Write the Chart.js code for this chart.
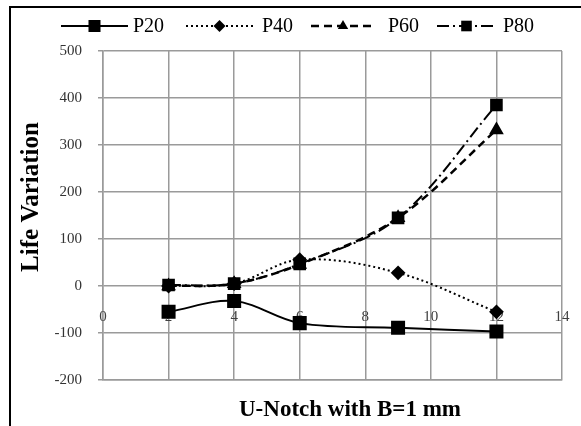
<!DOCTYPE html>
<html>
<head>
<meta charset="utf-8">
<script src="https://cdn.jsdelivr.net/npm/chart.js@4.4.1/dist/chart.umd.min.js"></script>
<style>
html,body{margin:0;padding:0;background:#fff;}
#wrap{width:581px;height:426px;}
</style>
</head>
<body>
<div id="wrap"><canvas id="chart" width="581" height="426"></canvas></div>
<script>

// values
const notchDepth=[2,4,6,9,12];
const p20=[-55,-32,-79,-89,-97];
const p40=[0,5,56,28,-55];
const p60=[0,5,46,145,332];
const p80=[2,5,47,145,385];

const xTicks=[0,2,4,6,8,10,12,14];
const yTicks=[-200,-100,0,100,200,300,400,500];

const seriesNames=["P20","P40","P60","P80"];

const SERIF="'Times New Roman','Liberation Serif',serif";
const GRID="#9a9a9a";

function points(values){
    return notchDepth.map((x,i)=>({x:x,y:values[i]}));
}

// legend sample positions (line start, line end, text start)
const legendPos=[
    [61,128,133],
    [186,253,262],
    [311,375,388],
    [437,496,503]
];

function drawMarker(ctx,style,x,y,r){

    ctx.beginPath();

    if(style==="rect"){
        const s=r*Math.SQRT1_2;
        ctx.rect(x-s,y-s,s*2,s*2);
    }
    else if(style==="rectRot"){
        ctx.moveTo(x,y-r);
        ctx.lineTo(x+r,y);
        ctx.lineTo(x,y+r);
        ctx.lineTo(x-r,y);
        ctx.closePath();
    }
    else if(style==="triangle"){
        ctx.moveTo(x,y-r);
        ctx.lineTo(x+r*0.866,y+r*0.5);
        ctx.lineTo(x-r*0.866,y+r*0.5);
        ctx.closePath();
    }

    ctx.fill();

}

const decor={

    id:"decor",

    beforeDatasetsDraw(chart){

        const ctx=chart.ctx;
        const xs=chart.scales.x;
        const y0=chart.scales.y.getPixelForValue(0);

        ctx.save();
        ctx.fillStyle="#404040";
        ctx.font="15px "+SERIF;
        ctx.textAlign="center";
        ctx.textBaseline="middle";

        xTicks.forEach(v=>{
            ctx.fillText(String(v),xs.getPixelForValue(v),y0+31);
        });

        ctx.restore();

    },

    afterDraw(chart){

        const ctx=chart.ctx;

        ctx.save();

        // outer frame
        ctx.strokeStyle="#000";
        ctx.lineWidth=2;
        ctx.strokeRect(10,7,640,500);

        // legend
        chart.data.datasets.forEach((ds,i)=>{

            const p=legendPos[i];
            const ly=26;

            ctx.strokeStyle="#000";
            ctx.lineWidth=ds.borderWidth;
            ctx.setLineDash(ds.borderDash||[]);
            ctx.beginPath();
            ctx.moveTo(p[0],ly);
            ctx.lineTo(p[1],ly);
            ctx.stroke();
            ctx.setLineDash([]);

            ctx.fillStyle="#000";
            drawMarker(ctx,ds.pointStyle,(p[0]+p[1])/2,ly,ds.pointRadius);

            ctx.font="20px "+SERIF;
            ctx.textAlign="left";
            ctx.textBaseline="middle";
            ctx.fillText(ds.label,p[2],ly+1);

        });

        // axis titles
        ctx.fillStyle="#000";
        ctx.font="bold 23px "+SERIF;
        ctx.textAlign="left";
        ctx.textBaseline="middle";
        ctx.fillText("U-Notch with B=1 mm",239,410);

        ctx.translate(32,197);
        ctx.rotate(-Math.PI/2);
        ctx.font="bold 25px "+SERIF;
        ctx.textAlign="center";
        ctx.fillText("Life Variation",0,0);

        ctx.restore();

    }

};

function drawChart(){

    const ctx=document.getElementById("chart");

    new Chart(ctx,{

        type:"line",

        data:{

            datasets:[
                {
                    label:seriesNames[0],
                    data:points(p20),
                    borderColor:"#000",
                    backgroundColor:"#000",
                    borderWidth:2,
                    pointStyle:"rect",
                    pointRadius:8.5,
                    tension:0.35
                },
                {
                    label:seriesNames[1],
                    data:points(p40),
                    borderColor:"#000",
                    backgroundColor:"#000",
                    borderWidth:2,
                    borderDash:[2,3],
                    pointStyle:"rectRot",
                    pointRadius:6,
                    tension:0.35
                },
                {
                    label:seriesNames[2],
                    data:points(p60),
                    borderColor:"#000",
                    backgroundColor:"#000",
                    borderWidth:2.5,
                    borderDash:[8,5],
                    pointStyle:"triangle",
                    pointRadius:6,
                    tension:0.35
                },
                {
                    label:seriesNames[3],
                    data:points(p80),
                    borderColor:"#000",
                    backgroundColor:"#000",
                    borderWidth:2,
                    borderDash:[12,4,2,4],
                    pointStyle:"rect",
                    pointRadius:7.5,
                    tension:0.35
                }
            ]

        },

        options:{

            responsive:false,
            animation:false,
            devicePixelRatio:1,

            layout:{
                padding:{top:51,right:19,bottom:46,left:0}
            },

            font:{family:SERIF},

            plugins:{
                legend:{display:false},
                tooltip:{enabled:false}
            },

            scales:{

                x:{
                    type:"linear",
                    min:0,
                    max:14,
                    afterBuildTicks:(s)=>{s.ticks=xTicks.map(v=>({value:v}));},
                    afterFit:(s)=>{s.height=0;},
                    ticks:{display:false},
                    grid:{color:GRID,lineWidth:1.5,drawTicks:false},
                    border:{color:GRID,width:1.5}
                },

                y:{
                    min:-200,
                    max:500,
                    afterBuildTicks:(s)=>{s.ticks=yTicks.map(v=>({value:v}));},
                    afterFit:(s)=>{s.width=103;},
                    ticks:{
                        color:"#333",
                        padding:16,
                        font:{family:SERIF,size:15}
                    },
                    grid:{color:GRID,lineWidth:1.5,tickLength:5},
                    border:{color:GRID,width:1.5}
                }

            }

        },

        plugins:[decor]

    });

}

document.addEventListener("DOMContentLoaded",()=>{

    drawChart();

});

</script>
</body>
</html>
